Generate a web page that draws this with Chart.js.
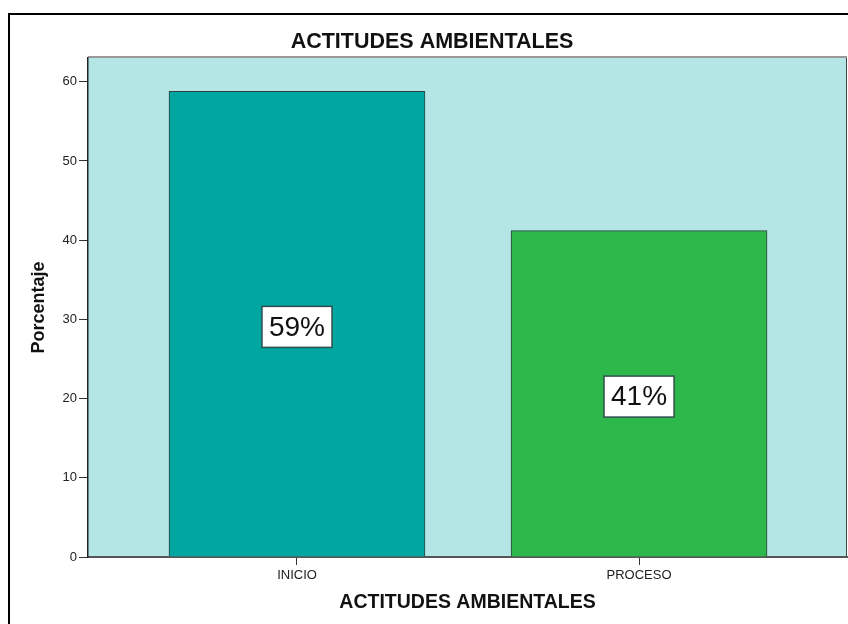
<!DOCTYPE html>
<html>
<head>
<meta charset="utf-8">
<script src="https://cdn.jsdelivr.net/npm/chart.js@4"></script>
<style>
  html, body { margin: 0; padding: 0; background: #fff; }
  #wrap { width: 848px; height: 624px; }
</style>
</head>
<body>
<div id="wrap"><canvas id="actitudes" width="848" height="624"></canvas></div>
<script>
const categories = ['INICIO', 'PROCESO'];
const porcentajes = [58.8, 41.2];
const etiquetas = ['59%', '41%'];
const barColors = ['#00A6A0', '#2EB84C'];
const yTicks = [0, 10, 20, 30, 40, 50, 60];

const FONT = '"Liberation Sans", Arial, sans-serif';

// fondo del area, marco exterior, titulo y cajas de etiquetas
const decor = {
  id: 'decor',
  beforeDraw(chart) {
    const { ctx, chartArea: a } = chart;
    ctx.save();
    ctx.fillStyle = '#fff';
    ctx.fillRect(0, 0, chart.width, chart.height);
    ctx.fillStyle = '#B4E6E6';
    ctx.fillRect(a.left, a.top, a.right - a.left, a.bottom - a.top);
    ctx.strokeStyle = '#999';
    ctx.lineWidth = 2;
    ctx.beginPath();
    ctx.moveTo(a.left, a.top - 1);
    ctx.lineTo(a.right, a.top - 1);
    ctx.stroke();
    ctx.strokeStyle = '#444';
    ctx.lineWidth = 1;
    ctx.beginPath();
    ctx.moveTo(a.right - 0.5, a.top);
    ctx.lineTo(a.right - 0.5, a.bottom);
    ctx.stroke();
    ctx.strokeStyle = '#000';
    ctx.lineWidth = 2;
    ctx.strokeRect(9, 14, 1000, 1000);
    ctx.fillStyle = '#111';
    ctx.font = 'bold 21.5px ' + FONT;
    ctx.textAlign = 'center';
    ctx.textBaseline = 'alphabetic';
    ctx.fillText('ACTITUDES AMBIENTALES', 432, 48);
    ctx.restore();
  },
  afterDatasetsDraw(chart) {
    const { ctx } = chart;
    const meta = chart.getDatasetMeta(0);
    ctx.save();
    ctx.font = '28px ' + FONT;
    ctx.textAlign = 'center';
    ctx.textBaseline = 'middle';
    meta.data.forEach((bar, i) => {
      const cx = bar.x;
      const cy = (bar.y + bar.base) / 2 + 3;
      const w = ctx.measureText(etiquetas[i]).width + 14;
      const h = 41;
      ctx.fillStyle = '#fff';
      ctx.fillRect(cx - w / 2, cy - h / 2, w, h);
      ctx.strokeStyle = '#2F4F4F';
      ctx.lineWidth = 1.5;
      ctx.strokeRect(cx - w / 2, cy - h / 2, w, h);
      ctx.fillStyle = '#111';
      ctx.fillText(etiquetas[i], cx, cy + 1);
    });
    ctx.restore();
  }
};

new Chart(document.getElementById('actitudes'), {
  type: 'bar',
  plugins: [decor],
  data: {
    datasets: [
      {
        data: categories.map((c, i) => ({ x: i, y: porcentajes[i] })),
        backgroundColor: barColors,
        borderColor: '#2F3F3F',
        borderWidth: 1,
        barThickness: 256,
      }
    ]
  },
  options: {
    responsive: false,
    animation: false,
    layout: {
      padding: { left: 0, top: 58, right: 1, bottom: 0 }
    },
    plugins: {
      legend: { display: false },
      title: { display: false },
      tooltip: { enabled: false },
    },
    scales: {
      x: {
        type: 'linear',
        offset: false,
        min: -0.611,
        max: 1.608,
        afterBuildTicks(scale) {
          scale.ticks = categories.map((c, i) => ({ value: i }));
        },
        afterFit(scale) { scale.height = 67; },
        ticks: {
          callback: (v) => categories[v],
          color: '#222',
          font: { family: FONT, size: 13 },
          padding: 3,
          maxRotation: 0,
        },
        grid: {
          offset: false,
          drawOnChartArea: false,
          drawTicks: true,
          tickLength: 8,
          color: '#333',
        },
        border: { display: true, color: '#555', width: 2 },
        title: {
          display: true,
          text: 'ACTITUDES AMBIENTALES',
          color: '#111',
          font: { family: FONT, size: 19.5, weight: 'bold' },
          padding: { top: 0, bottom: 10 },
        },
      },
      y: {
        min: 0,
        max: 63,
        afterBuildTicks(scale) {
          scale.ticks = yTicks.map(v => ({ value: v }));
        },
        afterFit(scale) { scale.width = 88; },
        ticks: {
          color: '#222',
          font: { family: FONT, size: 13 },
          padding: 2,
        },
        grid: {
          drawOnChartArea: false,
          drawTicks: true,
          tickLength: 9,
          color: '#333',
        },
        border: { display: true, color: '#222', width: 1.5 },
        title: {
          display: true,
          text: 'Porcentaje',
          color: '#111',
          font: { family: FONT, size: 18, weight: 'bold' },
          padding: { top: 28, bottom: 0 },
        },
      }
    }
  }
});
</script>
</body>
</html>
